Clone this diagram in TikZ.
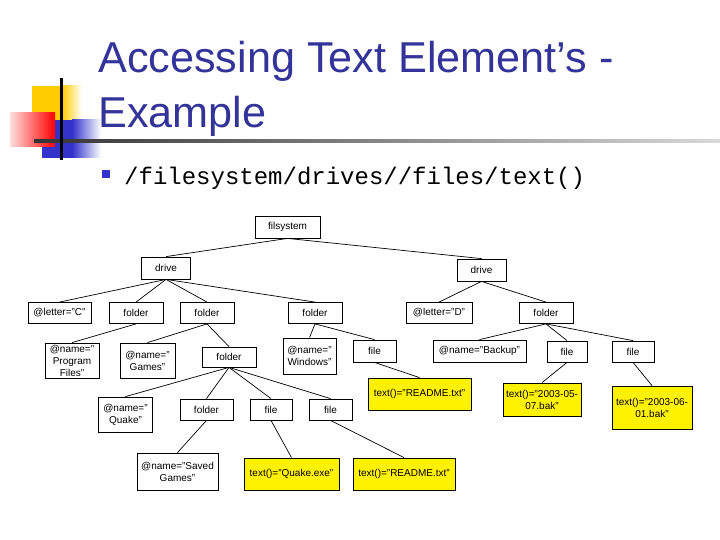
\documentclass[tikz,border=0pt]{standalone}
\usepackage{fontspec}
\setmainfont{Liberation Sans}
\newfontfamily\monofont{Liberation Mono}
\definecolor{titleblue}{RGB}{51,51,153}
\definecolor{logoyellow}{RGB}{255,204,0}
\definecolor{logoblue}{RGB}{51,51,204}
\definecolor{logored}{RGB}{255,0,0}
\definecolor{logopink}{RGB}{255,220,220}
\definecolor{bulletblue}{RGB}{51,51,204}
\begin{document}
\begin{tikzpicture}[x=1pt,y=-1pt,
  box/.style={draw=black, line width=0.8pt, fill=white, inner sep=0pt, align=center,
              font=\fontsize{10}{12}\selectfont, text=black},
  ybox/.style={box, fill=yellow},
  link/.style={draw=black, line width=0.7pt},
  titletext/.style={anchor=base west, inner sep=0pt, text=titleblue, font=\fontsize{43.2}{50}\selectfont}]
\useasboundingbox (0,0) rectangle (720,540);
\fill[white] (0,0) rectangle (720,540);

% logo
\fill[logoyellow] (32,86) rectangle (62,133);
\shade[left color=logoyellow, right color=white] (62,86) rectangle (82,133);
\fill[logoblue] (42,120) rectangle (72,158);
\shade[left color=logoblue, right color=white] (72,120) rectangle (101,158);
\shade[left color=logopink, right color=logored] (10,113) rectangle (55,147);
\shade[left color=black!80, right color=black!15] (34,140) rectangle (720,142.5);
\fill[black] (59.5,78) rectangle (62.5,160);

% title
\node[titletext] (t1) at (98,73) {Accessing Text Element’s -};
\node[titletext] (t2) at (98,128) {Example};

% bullet
\fill[bulletblue] (102,170) rectangle (110,178);
\node[anchor=base west, inner sep=0pt, font=\monofont\fontsize{24}{24}\selectfont] (path) at (124,185) {/filesystem/drives//files/text()};

% tree nodes
\node[box, minimum width=65, minimum height=22] (fs) at (287.5,227) {filsystem};
\node[box, minimum width=49, minimum height=22] (dL) at (166,268) {drive};
\node[box, minimum width=49, minimum height=22] (dR) at (481.5,270) {drive};

\node[box, minimum width=63, minimum height=21] (lc) at (59.5,313) {@letter="C"};
\node[box, minimum width=54, minimum height=21] (f1) at (136,313) {folder};
\node[box, minimum width=54, minimum height=21] (f2) at (207,313) {folder};
\node[box, minimum width=54, minimum height=21] (f3) at (315,313) {folder};
\node[box, minimum width=66, minimum height=21] (ld) at (439,313) {@letter="D"};
\node[box, minimum width=54, minimum height=21] (fR) at (546,313) {folder};

\node[box, minimum width=54, minimum height=35] (npf) at (72,360.5) {@name="\\Program\\Files"};
\node[box, minimum width=55, minimum height=35] (ng) at (147.5,360.5) {@name="\\Games"};
\node[box, minimum width=54, minimum height=20] (f4) at (229,357) {folder};
\node[box, minimum width=53, minimum height=36] (nw) at (309.5,356) {@name="\\Windows"};
\node[box, minimum width=43, minimum height=22] (fi1) at (374.5,351) {file};
\node[box, minimum width=93, minimum height=22] (nb) at (479.5,351) {@name="Backup"};
\node[box, minimum width=40, minimum height=21] (fi2) at (567,351.5) {file};
\node[box, minimum width=42, minimum height=21] (fi3) at (633,351.5) {file};

\node[ybox, minimum width=103, minimum height=32] (t1r) at (419.5,394) {text()="README.txt"};
\node[ybox, minimum width=78, minimum height=33] (t2b) at (542,399.5) {text()="2003-05-\\07.bak"};
\node[ybox, minimum width=80, minimum height=43] (t3b) at (652,407.5) {text()="2003-06-\\01.bak"};

\node[box, minimum width=54, minimum height=35] (nq) at (125.5,414.5) {@name="\\Quake"};
\node[box, minimum width=53, minimum height=21] (f5) at (206.5,409.5) {folder};
\node[box, minimum width=42, minimum height=21] (fi4) at (271,409.5) {file};
\node[box, minimum width=43, minimum height=21] (fi5) at (330.5,409.5) {file};

\node[box, minimum width=81, minimum height=37] (nsg) at (177.5,471.5) {@name="Saved\\Games"};
\node[ybox, minimum width=95, minimum height=32] (tq) at (291.5,474) {text()="Quake.exe"};
\node[ybox, minimum width=102, minimum height=32] (tr2) at (404,474) {text()="README.txt"};

% connectors
\foreach \p/\c in {fs/dL, fs/dR,
  dL/lc, dL/f1, dL/f2, dL/f3,
  dR/ld, dR/fR,
  f1/npf, f2/ng, f2/f4, f3/nw, f3/fi1, fi1/t1r,
  fR/nb, fR/fi2, fR/fi3, fi2/t2b, fi3/t3b,
  f4/nq, f4/f5, f4/fi4, f4/fi5,
  f5/nsg, fi4/tq, fi5/tr2}
  \draw[link] (\p.south) -- (\c.north);
\end{tikzpicture}
\end{document}
